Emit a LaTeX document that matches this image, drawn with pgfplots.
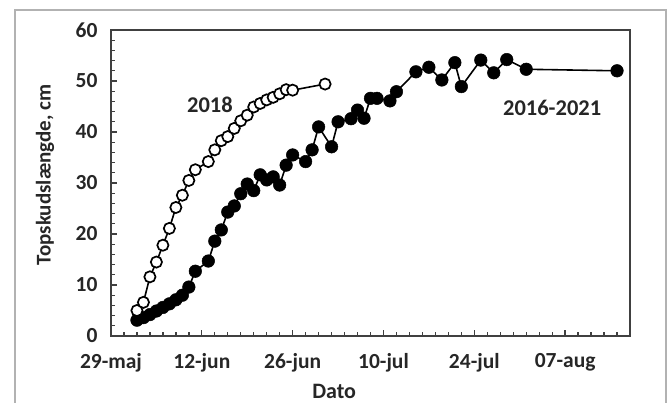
\documentclass[border=0pt]{standalone}
\usepackage{fontspec}
\setmainfont{Carlito}
\usepackage{pgfplots}
\pgfplotsset{compat=1.18}
\begin{document}
\begin{tikzpicture}
\useasboundingbox (-111pt,-67pt) rectangle (557pt,336pt);
\draw[black!30, line width=1.3pt] (-96pt,-80pt) -- (-96pt,326pt) -- (555pt,326pt) -- (555pt,-80pt);
\begin{axis}[
  scale only axis, width=519pt, height=306pt,
  at={(0pt,0pt)}, anchor=south west,
  xmin=0, xmax=80, ymin=0, ymax=60,
  xtick={0,14,28,42,56,70},
  xticklabels={29-maj,12-jun,26-jun,10-jul,24-jul,07-aug},
  minor xtick={0,2,...,80},
  ytick={0,10,...,60},
  minor ytick={0,2,...,60},
  xtick pos=left, ytick pos=left,
  tick align=inside,
  major tick length=6pt, minor tick length=3.5pt,
  every tick/.style={black!75, line width=1.3pt},
  axis line style={black!75, line width=2.5pt},
  /pgf/number format/assume math mode=true,
  tick label style={font=\fontsize{21.5}{25}\selectfont\bfseries, text=black!85},
  xticklabel style={yshift=-14pt},
  yticklabel style={xshift=-10pt},
  xlabel={Dato},
  ylabel={Topskudslængde, cm},
  every axis x label/.style={at={(axis description cs:0.43,0)}, yshift=-55.5pt, anchor=center, font=\fontsize{22}{26}\selectfont\bfseries, text=black!85},
  every axis y label/.style={at={(axis description cs:0,0.526)}, xshift=-66pt, rotate=90, anchor=center, font=\fontsize{21}{25}\selectfont\bfseries, text=black!85},
  clip=false,
]
\addplot[black, line width=1.6pt, mark=*, mark size=6.3pt, mark options={fill=black, draw=black, line width=0.5pt}] coordinates {
(4,3.1) (5,3.6) (6,4.2) (7,4.9) (8,5.6) (9,6.3) (10,7.1) (11,8.0) (12,9.6) (13,12.7)
(15,14.7) (16,18.6) (17,20.8) (18,24.3) (19,25.5) (20,27.9) (21,29.8) (22,28.5)
(23,31.6) (24,30.6) (25,31.2) (26,29.6) (27,33.5) (28,35.5) (30,34.2) (31,36.5)
(32,41.0) (34,37.1) (35,42.0) (37,42.6) (38,44.3) (39,42.7) (40,46.6) (41,46.6)
(43,46.1) (44,47.9) (47,51.8) (49,52.7) (51,50.2) (53,53.6) (54,48.9) (57,54.1)
(59,51.6) (61,54.2) (64,52.3) (78,52.0)
};
\addplot[black, line width=1.6pt, mark=*, mark size=5.6pt, mark options={fill=white, draw=black, line width=1.7pt}] coordinates {
(4,5.0) (5,6.6) (6,11.6) (7,14.5) (8,17.8) (9,21.1) (10,25.2) (11,27.6) (12,30.5)
(13,32.6) (15,34.2) (16,36.5) (17,38.3) (18,39.1) (19,40.7) (20,42.2) (21,43.3)
(22,44.9) (23,45.6) (24,46.3) (25,46.8) (26,47.5) (27,48.3) (28,48.2) (33,49.4)
};
\node[font=\fontsize{22.5}{26}\selectfont\bfseries, text=black!85] at (axis cs:15.25,45.4) {2018};
\node[font=\fontsize{22.5}{26}\selectfont\bfseries, text=black!85] at (axis cs:68.0,44.7) {2016-2021};
\end{axis}
\end{tikzpicture}
\end{document}
